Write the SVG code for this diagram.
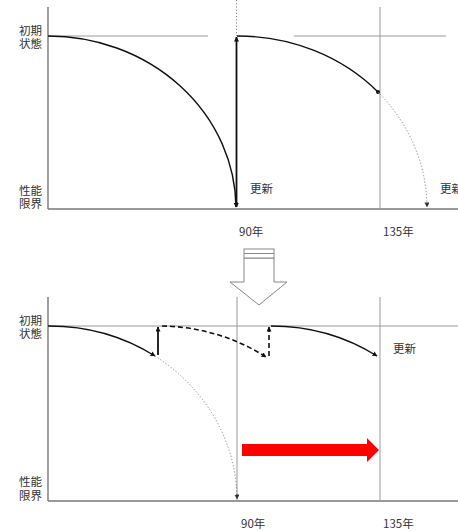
<svg xmlns="http://www.w3.org/2000/svg" width="458" height="531" viewBox="0 0 458 531">
<style>
text{font-family:"Noto Sans CJK JP","Noto Sans",sans-serif;font-size:11.5px;fill:#333}
.axis{stroke:#777;stroke-width:1.4;fill:none}
.thin{stroke:#999;stroke-width:1;fill:none}
.curve{stroke:#111;stroke-width:1.4;fill:none}
.thick{stroke:#111;stroke-width:1.8;fill:none}
.dash{stroke:#111;stroke-width:1.6;fill:none;stroke-dasharray:5,3}
.dot{stroke:#888;stroke-width:1;fill:none;stroke-dasharray:1.2,2}
</style>
<defs>
<marker id="ah" viewBox="0 0 10 10" refX="9" refY="5" markerWidth="5" markerHeight="5" orient="auto-start-reverse" markerUnits="userSpaceOnUse">
<path d="M0,0 L10,5 L0,10 z" fill="#111"/>
</marker>
<marker id="ahg" viewBox="0 0 10 10" refX="9" refY="5" markerWidth="5" markerHeight="5" orient="auto" markerUnits="userSpaceOnUse">
<path d="M0,0 L10,5 L0,10 z" fill="#333"/>
</marker>
</defs>

<g id="top-chart">
<g id="top-axes">
<line class="axis" x1="48" y1="7" x2="48" y2="209"/>
<line class="axis" x1="48" y1="209" x2="458" y2="209"/>
<line class="thin" x1="48" y1="36" x2="208" y2="36"/>
<line class="thin" x1="294" y1="36" x2="446" y2="36"/>
<line class="thin" x1="380" y1="7" x2="380" y2="209"/>
<line class="dot" x1="236.5" y1="0" x2="236.5" y2="36"/>
</g>
<g id="top-labels">
<text x="19" y="35">初期<tspan x="19" dy="13">状態</tspan></text>
<text x="19" y="195">性能<tspan x="19" dy="13">限界</tspan></text>
<text x="250" y="193">更新</text>
<text x="440" y="193">更新</text>
<text x="239" y="236">90年</text>
<text x="383" y="236">135年</text>
</g>
</g>

<g id="top-connectors">
<path class="curve" d="M48,36 A188,173 0 0 1 236,207" marker-end="url(#ah)"/>
<line class="thick" x1="236.5" y1="207" x2="236.5" y2="37" marker-start="url(#ah)" marker-end="url(#ah)"/>
<path class="curve" d="M237,36 A190,173 0 0 1 378,92"/>
<circle cx="378" cy="92" r="2" fill="#111"/>
<path class="dot" d="M378,92 A190,173 0 0 1 427,207" marker-end="url(#ahg)"/>
</g>

<g id="transition-arrow">
<path d="M244,258 L274,258 L274,282 L287,282 L259,305 L230,282 L244,282 Z" fill="#fff" stroke="#888" stroke-width="1"/>
<rect x="244" y="249" width="30" height="9" fill="#fff" stroke="#888" stroke-width="1"/>
<line x1="244" y1="253.5" x2="274" y2="253.5" stroke="#888" stroke-width="1"/>
</g>

<g id="bottom-chart">
<g id="bottom-axes">
<line class="axis" x1="48" y1="297" x2="48" y2="501"/>
<line class="axis" x1="48" y1="501" x2="458" y2="501"/>
<line class="thin" x1="48" y1="326" x2="458" y2="326"/>
<line class="thin" x1="237" y1="297" x2="237" y2="501"/>
<line class="thin" x1="380" y1="297" x2="380" y2="501"/>
</g>
<g id="bottom-labels">
<text x="19" y="325">初期<tspan x="19" dy="13">状態</tspan></text>
<text x="19" y="486">性能<tspan x="19" dy="14">限界</tspan></text>
<text x="393" y="353">更新</text>
<text x="241" y="528">90年</text>
<text x="383" y="528">135年</text>
</g>
<g id="extension-arrow">
<path d="M242,444 L367,444 L367,438 L379,450 L367,462 L367,456 L242,456 Z" fill="#f00"/>
</g>
</g>

<g id="bottom-connectors">
<path class="curve" d="M48,326 A189,175 0 0 1 155,356" marker-end="url(#ah)"/>
<path class="dot" d="M155,356 A189,175 0 0 1 237,499" marker-end="url(#ahg)"/>
<line class="thick" x1="158" y1="355" x2="158" y2="327" marker-end="url(#ah)"/>
<path class="dash" d="M162,326 A189,175 0 0 1 266,357" marker-end="url(#ah)"/>
<line class="dash" x1="269" y1="356" x2="269" y2="327" marker-end="url(#ah)"/>
<path class="curve" d="M271,326 A189,175 0 0 1 377,356" marker-end="url(#ah)"/>
</g>
</svg>
